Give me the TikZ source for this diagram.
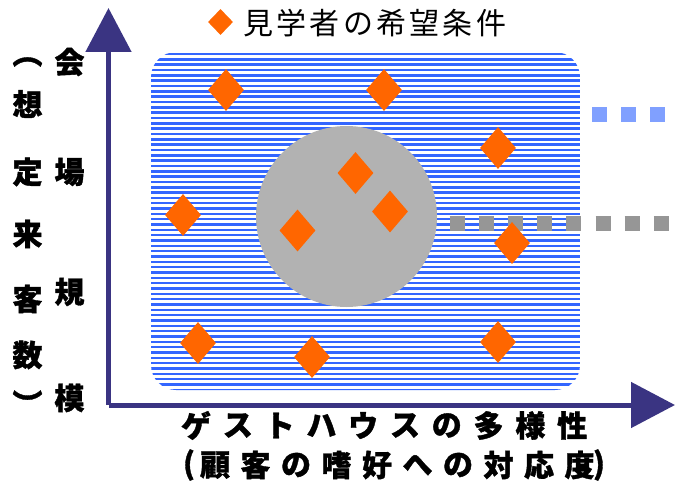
\documentclass[tikz,border=0pt]{standalone}
\usepackage{fontspec}
\newfontfamily\jp{Noto Sans CJK JP}
\usetikzlibrary{shapes.geometric,arrows.meta}
\definecolor{axiscol}{RGB}{58,52,130}
\definecolor{stripecol}{RGB}{51,102,255}
\definecolor{circcol}{RGB}{178,178,178}
\definecolor{dia}{RGB}{255,102,0}
\definecolor{dotgray}{RGB}{150,150,150}
\definecolor{dotblue}{RGB}{128,160,255}
\begin{document}
\begin{tikzpicture}[x=1pt,y=-1pt,
  wish/.style={diamond, fill=dia, draw=none, inner sep=0pt, minimum width=36pt, minimum height=42pt},
  ax/.style={draw=axiscol, line width=5pt, -{Triangle[length=44pt,width=45pt]}},
  lbl/.style={font=\jp\bfseries\fontsize{30}{30}\selectfont\addfontfeature{FakeBold=1.2}, inner sep=0pt},
  stripe/.style={stripecol, line width=2.5pt},
  dotrow/.style={line width=15pt, dash pattern=on 15pt off 14.2pt}
  ]
\useasboundingbox (0,0) rectangle (675,487);

% striped area of wishes
\begin{scope}
\clip[rounded corners=25pt] (151,52) rectangle (580,390);
\foreach \i in {0,...,63} \draw[stripe] (151,{54+5.33*\i}) -- (580,{54+5.33*\i});
\end{scope}

% gray circle
\node[circle, fill=circcol, minimum size=181pt, inner sep=0pt] (venue) at (346.5,216.5) {};

% dotted rows
\coordinate (g1) at (449.5,223.5); \coordinate (g2) at (670,223.5);
\draw[dotrow, dotgray] (g1) -- (g2);
\coordinate (b1) at (592,114.5); \coordinate (b2) at (666,114.5);
\draw[dotrow, dotblue] (b1) -- (b2);

% diamonds
\node[wish] (w1) at (226,90) {};
\node[wish] (w2) at (384,90) {};
\node[wish] (w3) at (498,148) {};
\node[wish] (w4) at (355.5,173) {};
\node[wish] (w5) at (183,215) {};
\node[wish] (w6) at (390,211.5) {};
\node[wish] (w7) at (297.5,230.5) {};
\node[wish] (w8) at (512,243) {};
\node[wish] (w9) at (198,343) {};
\node[wish] (w10) at (312,357) {};
\node[wish] (w11) at (498,342) {};

% axes
\coordinate (O) at (108.5,405);
\coordinate (ytip) at (108.5,8);
\coordinate (xtip) at (675,405);
\draw[ax] (O) -- (ytip);
\draw[ax] (O) -- (xtip);

% legend
\node[wish, minimum width=25pt, minimum height=26pt] (lk) at (220.5,22) {};
\node[font=\jp\fontsize{30}{30}\selectfont\addfontfeature{LetterSpace=11}, anchor=west, inner sep=0pt] (lt) at (243,23) {見学者の希望条件};

% y-axis labels
\foreach \c/\y [count=\i] in {会/62,場/172,規/292,模/398}
  \node[lbl] (ya\i) at (69.5,\y) {\c};
\foreach \c/\y [count=\i] in {︵/62,想/104,定/172,来/234,客/299,数/355,︶/403}
  \node[lbl] (yb\i) at (27.5,\y) {\c};

% x-axis labels
\foreach \c [count=\i] in {ゲ,ス,ト,ハ,ウ,ス,の,多,様,性}
  \node[lbl] (xa\i) at ({196+41.8*(\i-1)},425.5) {\c};
\node[lbl] (xp1) at (189,465) {(};
\foreach \c [count=\i] in {顧,客,の,嗜,好,へ,の,対,応,度}
  \node[lbl] (xb\i) at ({215+40.5*(\i-1)},465) {\c};
\node[lbl] (xp2) at (599,465) {)};
\end{tikzpicture}
\end{document}
